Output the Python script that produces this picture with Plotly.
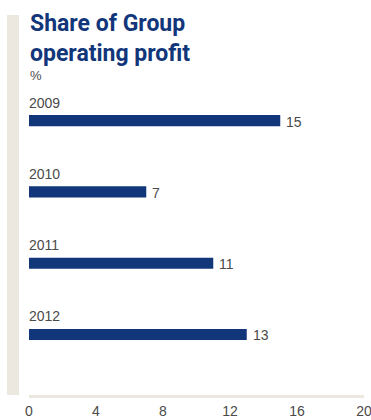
import plotly.graph_objects as go

# Share of Group operating profit, %
years = ["2009", "2010", "2011", "2012"]
share = [15, 7, 11, 13]
x_ticks = [0, 4, 8, 12, 16, 20]

NAVY = "#12367a"
GREY = "#4a4a4a"
BEIGE = "#ede8df"

L, R, T, B = 29, 7, 85, 25
W, H = 371, 420
PW, PH = W - L - R, H - T - B


def px_x(p):
    """Pixel column -> paper x."""
    return (p - L) / PW


def px_y(p):
    """Pixel row -> paper y."""
    return (H - B - p) / PH


fig = go.Figure(
    go.Bar(
        y=years,
        x=share,
        orientation="h",
        width=0.155,
        marker=dict(color=NAVY, line=dict(width=0)),
        hoverinfo="skip",
    )
)

annotations = []
# year label above each bar, value label to its right
for i, (yr, val) in enumerate(zip(years, share)):
    annotations.append(dict(
        x=0, y=i, xref="x", yref="y", text=yr, showarrow=False,
        xanchor="left", yanchor="middle", yshift=18, xshift=-2,
        font=dict(family="Liberation Sans", size=14, color=GREY),
    ))
    annotations.append(dict(
        x=val, y=i, xref="x", yref="y", text=str(val), showarrow=False,
        xanchor="left", yanchor="middle", xshift=4, yshift=-1,
        font=dict(family="Liberation Sans", size=14, color=GREY),
    ))

# chart heading and unit
annotations.append(dict(
    x=px_x(28), y=px_y(8), xref="paper", yref="paper",
    text="<b>Share of Group<br>operating profit</b>",
    showarrow=False, xanchor="left", yanchor="top", align="left",
    font=dict(family="Roboto", size=23, color=NAVY),
))
annotations.append(dict(
    x=px_x(28), y=px_y(75), xref="paper", yref="paper", text="%",
    showarrow=False, xanchor="left", yanchor="middle",
    font=dict(family="Liberation Sans", size=13, color=GREY),
))

fig.update_layout(
    width=W, height=H,
    margin=dict(l=L, r=R, t=T, b=B, autoexpand=False),
    paper_bgcolor="white", plot_bgcolor="white",
    showlegend=False,
    xaxis=dict(
        range=[0, 20], tickvals=x_ticks, ticktext=[str(t) for t in x_ticks],
        showgrid=False, zeroline=False, automargin=False,
        showline=True, linecolor=BEIGE, linewidth=3,
        ticks="outside", ticklen=1, tickcolor="rgba(0,0,0,0)",
        ticklabeloverflow="allow",
        tickfont=dict(family="Liberation Sans", size=14, color=GREY),
        fixedrange=True,
    ),
    yaxis=dict(
        type="category", categoryorder="array", categoryarray=years,
        range=[3.85, -0.5], showticklabels=False, showgrid=False,
        zeroline=False, showline=False, fixedrange=True, automargin=False,
    ),
    annotations=annotations,
    shapes=[dict(
        type="rect", xref="paper", yref="paper",
        x0=px_x(7), x1=px_x(19), y0=0, y1=px_y(15),
        fillcolor=BEIGE, line=dict(width=0), layer="below",
    )],
)

fig.write_html("out.html")
